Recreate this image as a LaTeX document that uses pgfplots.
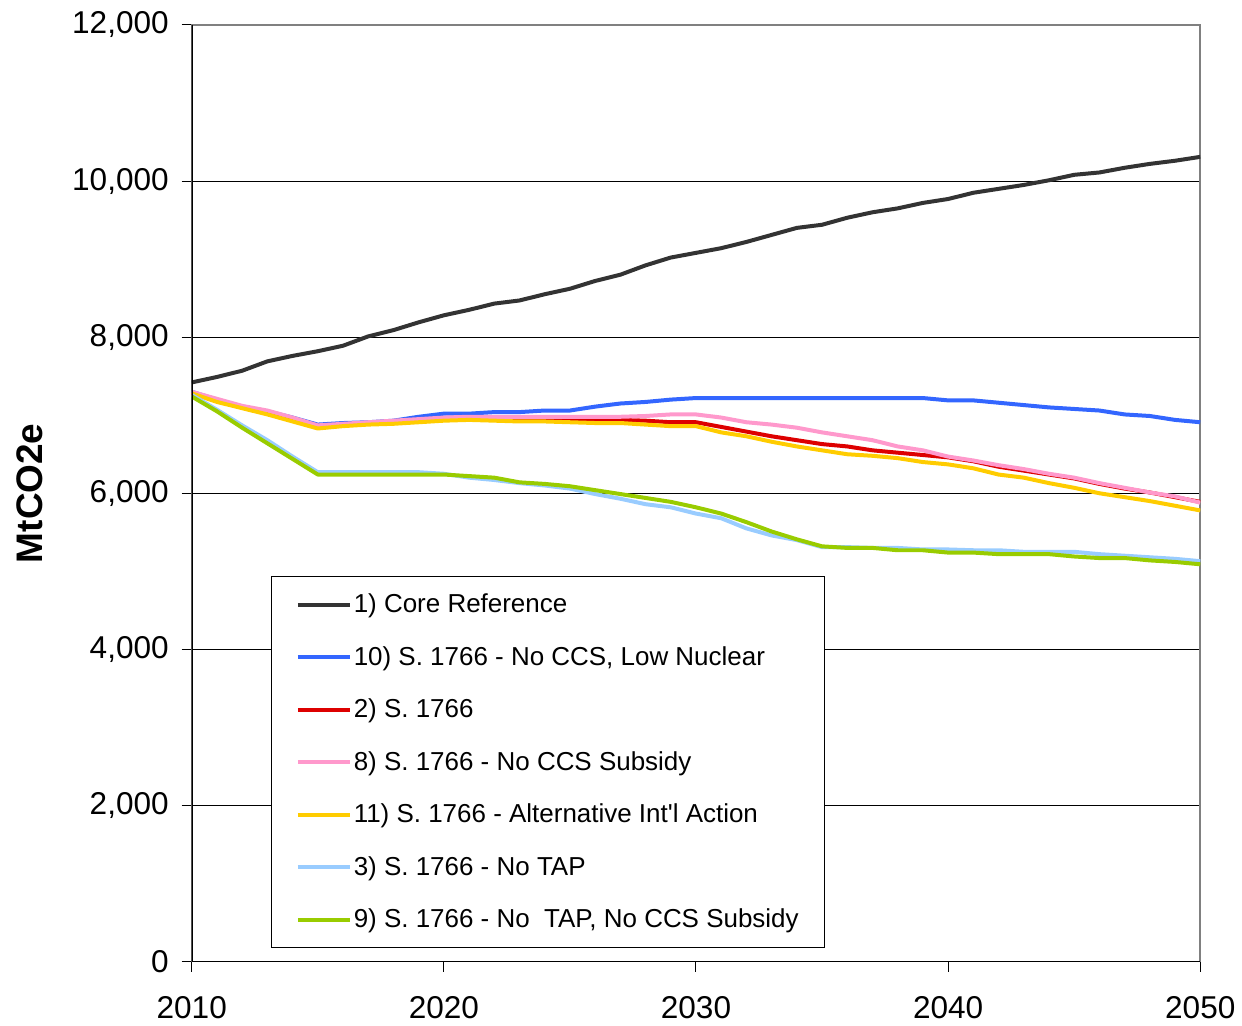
\documentclass[border=0pt]{standalone}
\usepackage{pgfplots}
\pgfplotsset{compat=1.18}
\usepackage{pgfplotstable}
\usepackage{fontspec}
\setmainfont{Liberation Sans}

\definecolor{coreref}{HTML}{333333}
\definecolor{lownuc}{HTML}{3366FF}
\definecolor{sbill}{HTML}{DD0000}
\definecolor{noccs}{HTML}{FF99CC}
\definecolor{altintl}{HTML}{FFCC00}
\definecolor{notap}{HTML}{99CCFF}
\definecolor{notapccs}{HTML}{99CC00}

% emissions, MtCO2e
\pgfplotstableread{
year core lownuc sbill noccs altintl notap notapccs
2010 7420 7300 7290 7300 7280 7260 7240
2011 7490 7200 7190 7210 7170 7070 7050
2012 7570 7110 7100 7120 7090 6870 6840
2013 7690 7050 7030 7060 7010 6680 6640
2014 7760 6970 6950 6970 6920 6470 6440
2015 7820 6880 6860 6870 6830 6270 6240
2016 7890 6900 6880 6890 6860 6270 6240
2017 8010 6910 6900 6910 6880 6270 6240
2018 8090 6930 6920 6930 6890 6270 6240
2019 8190 6980 6940 6950 6910 6270 6240
2020 8280 7020 6960 6970 6930 6250 6240
2021 8350 7020 6960 6980 6940 6200 6220
2022 8430 7040 6960 6980 6930 6170 6200
2023 8470 7040 6950 6980 6920 6130 6140
2024 8550 7060 6950 6980 6920 6100 6120
2025 8620 7060 6950 6980 6910 6060 6090
2026 8720 7110 6940 6980 6900 5990 6040
2027 8800 7150 6940 6980 6900 5930 5990
2028 8920 7170 6930 6990 6880 5860 5940
2029 9020 7200 6910 7010 6860 5820 5890
2030 9080 7220 6910 7010 6860 5740 5820
2031 9140 7220 6850 6970 6780 5680 5740
2032 9220 7220 6790 6910 6730 5550 5630
2033 9310 7220 6730 6880 6660 5460 5510
2034 9400 7220 6680 6840 6600 5400 5410
2035 9440 7220 6630 6780 6550 5310 5320
2036 9530 7220 6600 6730 6500 5310 5300
2037 9600 7220 6550 6680 6480 5300 5300
2038 9650 7220 6520 6600 6450 5300 5270
2039 9720 7220 6490 6550 6400 5280 5270
2040 9770 7190 6460 6470 6370 5280 5240
2041 9850 7190 6410 6420 6320 5270 5240
2042 9900 7160 6340 6360 6240 5270 5220
2043 9950 7130 6290 6310 6200 5250 5220
2044 10010 7100 6240 6250 6130 5250 5220
2045 10080 7080 6190 6200 6070 5250 5190
2046 10110 7060 6120 6130 6000 5220 5170
2047 10170 7010 6060 6070 5950 5200 5170
2048 10220 6990 6010 6010 5900 5180 5140
2049 10260 6940 5950 5960 5840 5160 5120
2050 10310 6910 5890 5880 5780 5130 5090
}\emis

\begin{document}
\begin{tikzpicture}
\begin{axis}[
  name=ax,
  scale only axis,
  width=505pt, height=469pt,
  xmin=2010, xmax=2050,
  ymin=0, ymax=12000,
  xtick={2010,2020,...,2050},
  ytick={0,2000,...,12000},
  scaled y ticks=false,
  xtick pos=bottom, ytick pos=left,
  tick align=outside,
  major tick length=5pt,
  tick style={black, line width=0.5pt},
  axis line style={draw=gray, line width=0.8pt},
  ymajorgrids,
  major grid style={black, line width=0.5pt},
  /pgf/number format/assume math mode=true,
  /pgf/number format/1000 sep={,},
  xticklabel style={/pgf/number format/1000 sep=},
  ticklabel style={font=\fontsize{15.8}{19}\selectfont},
  xticklabel style={yshift=-9pt},
  yticklabel style={xshift=-3pt},
  ylabel={MtCO2e},
  ylabel style={at={(rel axis cs:0,0.5)}, yshift=81pt, anchor=center,
    font=\fontsize{18.5}{22}\bfseries},
  every axis plot/.append style={line width=2pt, line join=round},
  legend cell align=left,
  legend image code/.code={\draw[#1] (0pt,0pt) -- (26pt,0pt);},
  legend style={at={(0.079,0.4115)}, anchor=north west,
    draw=black, line width=0.5pt, fill=white,
    font=\fontsize{13}{15}\selectfont,
    inner xsep=12pt, inner ysep=7.5pt,
    row sep=13.4pt,
    nodes={inner sep=1pt}},
]
\addplot[coreref] table[x=year, y=core] {\emis};
\addlegendentry{1) Core Reference}
\addplot[lownuc] table[x=year, y=lownuc] {\emis};
\addlegendentry{10) S. 1766 - No CCS, Low Nuclear}
\addplot[sbill] table[x=year, y=sbill] {\emis};
\addlegendentry{2) S. 1766}
\addplot[noccs] table[x=year, y=noccs] {\emis};
\addlegendentry{8) S. 1766 - No CCS Subsidy}
\addplot[altintl] table[x=year, y=altintl] {\emis};
\addlegendentry{11) S. 1766 - Alternative Int\textquotesingle l Action}
\addplot[notap] table[x=year, y=notap] {\emis};
\addlegendentry{3) S. 1766 - No TAP}
\addplot[notapccs] table[x=year, y=notapccs] {\emis};
\addlegendentry{9) S. 1766 - No\ \ TAP, No CCS Subsidy}
\draw[black, line width=0.8pt] (rel axis cs:0,1) -- (rel axis cs:0,0) -- (rel axis cs:1,0);
\end{axis}
% white margins left of the y label and above the plot, as in the reference
\path ([xshift=-96pt]ax.south west) -- ([xshift=-96pt,yshift=12.5pt]ax.north west);
\end{tikzpicture}
\end{document}
